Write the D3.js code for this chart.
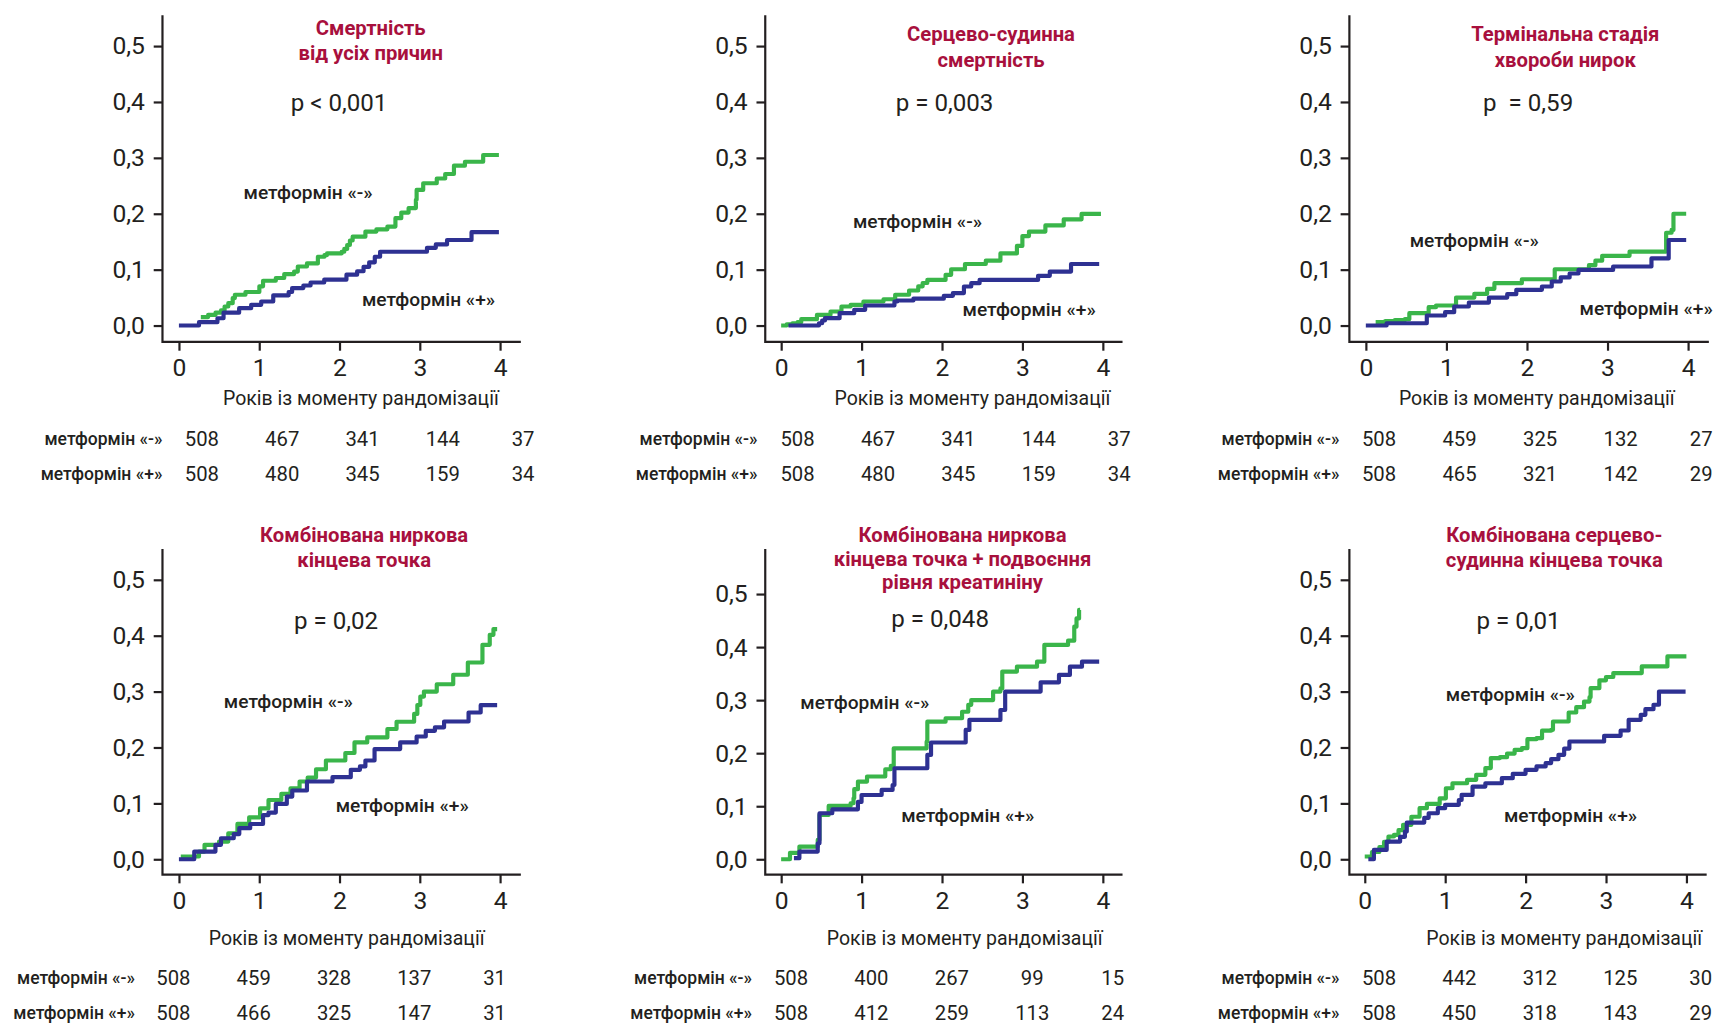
<!DOCTYPE html>
<html>
<head>
<meta charset="utf-8">
<script src="https://cdn.jsdelivr.net/npm/d3@7"></script>
<style>
  body { margin: 0; background: #fff; }
  svg { display: block; }
  text { font-family: Roboto, "Noto Sans", sans-serif; fill: #231f20; }
</style>
</head>
<body>
<svg id="chart"></svg>
<script>
// ---- data ----
const years = [0, 1, 2, 3, 4];
const yTicks = [0, 0.1, 0.2, 0.3, 0.4, 0.5];
const armLabels = ["метформін «-»", "метформін «+»"];
const axisTitle = "Років із моменту рандомізації";

const titles = [
  ["Смертність", "від усіх причин"],
  ["Серцево-судинна", "смертність"],
  ["Термінальна стадія", "хвороби нирок"],
  ["Комбінована ниркова", "кінцева точка"],
  ["Комбінована ниркова", "кінцева точка + подвоєння", "рівня креатиніну"],
  ["Комбінована серцево-", "судинна кінцева точка"]
];
const pValues = ["p < 0,001", "p = 0,003", "p  = 0,59", "p = 0,02", "p = 0,048", "p = 0,01"];

const atRiskMinus = [
  [508, 467, 341, 144, 37],
  [508, 467, 341, 144, 37],
  [508, 459, 325, 132, 27],
  [508, 459, 328, 137, 31],
  [508, 400, 267, 99, 15],
  [508, 442, 312, 125, 30]
];
const atRiskPlus = [
  [508, 480, 345, 159, 34],
  [508, 480, 345, 159, 34],
  [508, 465, 321, 142, 29],
  [508, 466, 325, 147, 31],
  [508, 412, 259, 113, 24],
  [508, 450, 318, 143, 29]
];

// cumulative incidence, [years, value], metformin "-" (green)
const noMetformin = [
  [[0.273,0.015],[0.364,0.019],[0.456,0.023],[0.524,0.027],[0.569,0.034],[0.615,0.040],[0.670,0.049],[0.697,0.055],[0.829,0.060],[1.002,0.070],[1.048,0.080],[1.207,0.085],[1.312,0.092],[1.435,0.0965],[1.481,0.1055],[1.595,0.111],[1.731,0.123],[1.813,0.126],[1.845,0.129],[2.027,0.132],[2.06,0.137],[2.096,0.144],[2.13,0.152],[2.164,0.159],[2.323,0.168],[2.46,0.172],[2.597,0.177],[2.697,0.192],[2.77,0.202],[2.861,0.210],[2.952,0.225],[2.961,0.2425],[3.043,0.2545],[3.212,0.263],[3.317,0.271],[3.426,0.286],[3.563,0.293],[3.79,0.305],[3.986,0.305]],
  [[0,0],[0.07,0.002],[0.14,0.004],[0.2045,0.006],[0.25,0.0113],[0.445,0.019],[0.614,0.025],[0.75,0.034],[0.864,0.037],[1.023,0.043],[1.273,0.047],[1.418,0.055],[1.591,0.0626],[1.705,0.070],[1.76,0.076],[1.818,0.0816],[2.045,0.0906],[2.114,0.1007],[2.286,0.110],[2.545,0.116],[2.727,0.129],[2.932,0.1424],[3.0,0.160],[3.082,0.168],[3.286,0.179],[3.514,0.190],[3.736,0.1996],[3.977,0.1996]],
  [[0.122,0.006],[0.24,0.008],[0.36,0.0095],[0.485,0.0113],[0.54,0.022],[0.78,0.0328],[0.871,0.0358],[1.12,0.050],[1.347,0.0566],[1.506,0.0656],[1.596,0.0757],[1.937,0.0828],[2.345,0.1007],[2.77,0.108],[2.85,0.116],[2.934,0.1246],[3.274,0.1323],[3.728,0.166],[3.796,0.171],[3.819,0.200],[3.977,0.200]],
  [[0.023,0.0048],[0.25,0.0137],[0.319,0.0257],[0.50,0.0316],[0.615,0.0465],[0.729,0.0632],[0.875,0.075],[1.011,0.091],[1.116,0.106],[1.276,0.117],[1.39,0.127],[1.503,0.139],[1.604,0.146],[1.708,0.161],[1.831,0.1766],[2.073,0.190],[2.187,0.209],[2.346,0.218],[2.597,0.233],[2.711,0.246],[2.93,0.26],[2.97,0.276],[3.007,0.291],[3.052,0.300],[3.212,0.313],[3.417,0.330],[3.599,0.352],[3.781,0.3836],[3.872,0.4015],[3.918,0.4117],[3.964,0.4117]],
  [[0,0],[0.11,0.012],[0.227,0.0239],[0.455,0.0364],[0.477,0.0835],[0.591,0.1005],[0.864,0.1055],[0.90,0.115],[0.909,0.132],[0.955,0.1464],[1.068,0.156],[1.295,0.1696],[1.364,0.176],[1.40,0.209],[1.809,0.2217],[1.818,0.2594],[2.045,0.2657],[2.25,0.278],[2.327,0.291],[2.364,0.300],[2.636,0.316],[2.727,0.322],[2.75,0.3537],[2.932,0.363],[3.182,0.3725],[3.273,0.404],[3.568,0.412],[3.645,0.4385],[3.673,0.454],[3.705,0.47],[3.718,0.47]],
  [[0,0.0048],[0.09,0.013],[0.182,0.0215],[0.24,0.031],[0.295,0.0406],[0.364,0.0436],[0.42,0.052],[0.477,0.0615],[0.58,0.076],[0.682,0.0913],[0.773,0.099],[0.932,0.109],[1.009,0.127],[1.091,0.136],[1.273,0.142],[1.386,0.151],[1.50,0.163],[1.568,0.181],[1.682,0.1826],[1.77,0.189],[1.864,0.1957],[1.955,0.1987],[2.023,0.2148],[2.136,0.2166],[2.205,0.230],[2.318,0.2315],[2.341,0.2464],[2.536,0.2625],[2.63,0.272],[2.727,0.282],[2.795,0.290],[2.809,0.306],[2.918,0.320],[3.0,0.326],[3.091,0.333],[3.445,0.345],[3.764,0.3628],[4.0,0.3628]]
];

// metformin "+" (blue)
const withMetformin = [
  [[0,0],[0.25,0.006],[0.48,0.013],[0.556,0.023],[0.75,0.031],[0.90,0.037],[1.025,0.043],[1.175,0.054],[1.367,0.060],[1.41,0.067],[1.55,0.0715],[1.64,0.077],[1.81,0.082],[2.087,0.091],[2.22,0.097],[2.30,0.105],[2.37,0.113],[2.44,0.123],[2.506,0.132],[3.09,0.139],[3.20,0.145],[3.34,0.153],[3.645,0.167],[3.986,0.167]],
  [[0.091,0],[0.432,0],[0.47,0.004],[0.51,0.009],[0.545,0.0131],[0.727,0.022],[0.909,0.028],[1.045,0.0358],[1.409,0.0429],[1.445,0.0447],[1.645,0.048],[2.023,0.053],[2.136,0.058],[2.273,0.0697],[2.364,0.0757],[2.468,0.0816],[3.195,0.0888],[3.341,0.0965],[3.605,0.110],[3.955,0.110]],
  [[0,0],[0.258,0.004],[0.757,0.0179],[0.984,0.0238],[1.097,0.034],[1.279,0.041],[1.528,0.050],[1.755,0.056],[1.868,0.0638],[2.186,0.0697],[2.308,0.0787],[2.42,0.086],[2.53,0.093],[2.64,0.0995],[3.07,0.1055],[3.546,0.120],[3.76,0.153],[3.977,0.153]],
  [[0,0],[0.191,0.0137],[0.455,0.0257],[0.524,0.0376],[0.683,0.045],[0.752,0.0555],[0.888,0.063],[1.048,0.079],[1.116,0.0835],[1.207,0.099],[1.344,0.112],[1.412,0.123],[1.595,0.139],[1.913,0.1468],[2.141,0.160],[2.255,0.166],[2.323,0.1766],[2.437,0.197],[2.756,0.209],[2.961,0.2196],[3.075,0.2297],[3.189,0.236],[3.303,0.2464],[3.608,0.2625],[3.759,0.2757],[3.964,0.2757]],
  [[0.159,0.002],[0.227,0.0144],[0.455,0.030],[0.477,0.0867],[0.636,0.094],[0.955,0.108],[1.0,0.121],[1.25,0.1307],[1.386,0.140],[1.409,0.1715],[1.818,0.1966],[1.864,0.220],[2.295,0.2437],[2.341,0.2626],[2.727,0.2814],[2.786,0.316],[3.227,0.3335],[3.455,0.3474],[3.591,0.363],[3.741,0.3725],[3.955,0.3725]],
  [[0.045,0],[0.114,0.0167],[0.273,0.0316],[0.44,0.04],[0.50,0.0495],[0.523,0.0656],[0.74,0.074],[0.795,0.0823],[0.909,0.0913],[1.0,0.0973],[1.17,0.106],[1.205,0.115],[1.341,0.130],[1.50,0.136],[1.705,0.145],[1.841,0.1527],[2.0,0.16],[2.136,0.166],[2.25,0.172],[2.318,0.179],[2.409,0.1868],[2.48,0.198],[2.545,0.2106],[2.977,0.2208],[3.182,0.2303],[3.282,0.2494],[3.432,0.2584],[3.49,0.2685],[3.591,0.2763],[3.659,0.300],[3.99,0.300]]
];

// ---- layout (in 1568x938 units, scaled up by the viewBox) ----
const W = 1568, H = 938;
const layout = [
  { axisX: 148, xr: [163, 456], yr: [297, 42], yTop: 14, baseY: 312, xEnd: 475,
    titleX: 338, titleY: [25, 48], p: [265, 94], minus: [222, 176], plus: [330, 273],
    axisTitle: [329, 363], tableRight: 148, shift: 21, rows: [400, 432] },
  { axisX: 698, xr: [712.5, 1006], yr: [297, 42], yTop: 14, baseY: 312, xEnd: 1024,
    titleX: 904, titleY: [31, 55], p: [817, 94], minus: [778, 202], plus: [878, 282],
    axisTitle: [887, 363], tableRight: 691, shift: 15, rows: [400, 432] },
  { axisX: 1231, xr: [1246, 1540], yr: [297, 42], yTop: 14, baseY: 312, xEnd: 1559,
    titleX: 1428, titleY: [31, 55], p: [1353, 94], minus: [1286, 219], plus: [1441, 281],
    axisTitle: [1402, 363], tableRight: 1222, shift: 12, rows: [400, 432] },
  { axisX: 148, xr: [163, 456], yr: [784, 529], yTop: 501, baseY: 798, xEnd: 475,
    titleX: 332, titleY: [488, 511], p: [268, 566], minus: [204, 640], plus: [306, 735],
    axisTitle: [316, 856], tableRight: 123, shift: -5, rows: [892, 924] },
  { axisX: 698, xr: [712.5, 1006], yr: [784, 542], yTop: 501, baseY: 798, xEnd: 1024,
    titleX: 878, titleY: [488, 510, 531], p: [813, 565], minus: [730, 641], plus: [822, 744],
    axisTitle: [880, 856], tableRight: 686, shift: 9, rows: [892, 924] },
  { axisX: 1231, xr: [1245, 1538.5], yr: [784, 529], yTop: 501, baseY: 798, xEnd: 1557,
    titleX: 1418, titleY: [488, 511], p: [1347, 566], minus: [1319, 634], plus: [1372, 744],
    axisTitle: [1427, 856], tableRight: 1222, shift: 13, rows: [892, 924] }
];

const green = "#3ab54a", blue = "#2e3192", crimson = "#a8103d", ink = "#231f20";
const fmt = d => d3.format(".1f")(d).replace(".", ",");

const svg = d3.select("#chart")
  .attr("width", 1719).attr("height", 1028)
  .attr("viewBox", `0 0 ${W} ${H}`);

layout.forEach((L, i) => {
  const g = svg.append("g").attr("class", "panel");
  const x = d3.scaleLinear().domain([0, 4]).range(L.xr);
  const y = d3.scaleLinear().domain([0, 0.5]).range(L.yr);

  // axis lines
  g.append("path")
    .attr("d", `M${L.axisX},${L.yTop}V${L.baseY}H${L.xEnd}`)
    .attr("fill", "none").attr("stroke", ink).attr("stroke-width", 2);

  const ya = g.append("g").attr("transform", `translate(${L.axisX},0)`)
    .call(d3.axisLeft(y).tickValues(yTicks).tickFormat(fmt).tickSize(8).tickPadding(8));
  const xa = g.append("g").attr("transform", `translate(0,${L.baseY})`)
    .call(d3.axisBottom(x).tickValues(years).tickFormat(d3.format("d")).tickSize(8).tickPadding(7));
  [ya, xa].forEach(a => {
    a.select(".domain").remove();
    a.selectAll(".tick line").attr("stroke", ink).attr("stroke-width", 2);
    a.selectAll(".tick text").attr("fill", ink)
      .style("font-family", "Roboto, sans-serif").style("font-size", "22.5px");
  });

  // curves
  const line = d3.line().x(d => x(d[0])).y(d => y(d[1])).curve(d3.curveStepAfter);
  [[noMetformin[i], green], [withMetformin[i], blue]].forEach(([data, col]) => {
    g.append("path").datum(data)
      .attr("d", line)
      .attr("fill", "none").attr("stroke", col)
      .attr("stroke-width", 3.8).attr("stroke-linejoin", "round");
  });

  // title
  g.append("g").selectAll("text").data(titles[i]).join("text")
    .attr("x", L.titleX).attr("y", (d, k) => L.titleY[k] + 6.5)
    .attr("text-anchor", "middle")
    .style("fill", crimson).style("font-weight", 700).style("font-size", "18.5px")
    .text(d => d);

  // p value
  g.append("text").attr("x", L.p[0]).attr("y", L.p[1] + 7.5)
    .style("font-size", "22px").style("white-space", "pre")
    .text(pValues[i]);

  // series labels
  g.append("text").attr("x", L.minus[0]).attr("y", L.minus[1] + 6)
    .style("font-size", "17.5px").style("font-weight", 500).text(armLabels[0]);
  g.append("text").attr("x", L.plus[0]).attr("y", L.plus[1] + 6)
    .style("font-size", "17.5px").style("font-weight", 500).text(armLabels[1]);

  // x axis title
  g.append("text").attr("x", L.axisTitle[0]).attr("y", L.axisTitle[1] + 6.5)
    .attr("text-anchor", "middle").style("font-size", "17.8px").text(axisTitle);

  // numbers at risk
  [atRiskMinus[i], atRiskPlus[i]].forEach((row, r) => {
    g.append("text").attr("x", L.tableRight).attr("y", L.rows[r] + 6)
      .attr("text-anchor", "end").style("font-size", "16px").style("font-weight", 500)
      .text(armLabels[r]);
    g.append("g").selectAll("text").data(row).join("text")
      .attr("x", (d, k) => x(years[k]) + L.shift).attr("y", L.rows[r] + 6.5)
      .attr("text-anchor", "middle").style("font-size", "18.5px")
      .text(d => d);
  });
});
</script>
</body>
</html>
